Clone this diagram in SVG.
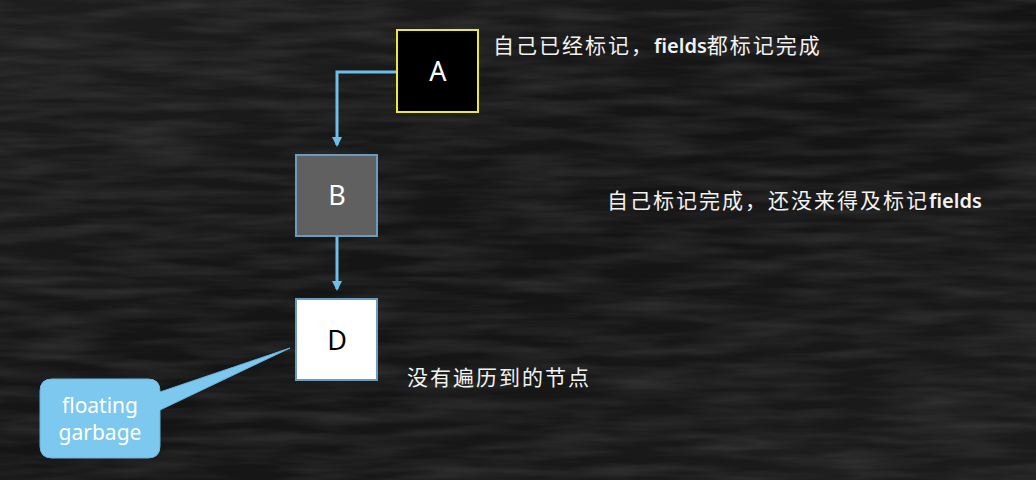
<svg xmlns="http://www.w3.org/2000/svg" width="1036" height="480" viewBox="0 0 1036 480">
<defs>
<style>
.lbl{font-family:"Noto Sans","Open Sans",sans-serif;font-size:27px;text-anchor:middle}
.note{font-family:"Noto Sans","Noto Sans CJK SC",sans-serif;font-size:21px;letter-spacing:2px;fill:#f2f2f2}
.lat{letter-spacing:0;font-size:20px;font-weight:600}
.conn{stroke:#6cbfe8;stroke-width:3;fill:none}
.cap{font-family:"Noto Sans","Open Sans",sans-serif;font-size:21px;fill:#fff;text-anchor:middle}
</style>
<marker id="arr" markerWidth="10" markerHeight="10" refX="8" refY="5" orient="auto" markerUnits="userSpaceOnUse">
<path d="M0,0 L10,5 L0,10 Z" fill="#6cbfe8"/>
</marker>
<linearGradient id="bg" x1="0" y1="0" x2="1" y2="1">
<stop offset="0" stop-color="#1e1e1e"/>
<stop offset="0.5" stop-color="#141414"/>
<stop offset="1" stop-color="#1c1c1c"/>
</linearGradient>
<filter id="chalk" x="0" y="0" width="100%" height="100%">
<feTurbulence type="fractalNoise" baseFrequency="0.01 0.09" numOctaves="3" seed="4"/>
<feColorMatrix type="matrix" values="0 0 0 0 1  0 0 0 0 1  0 0 0 0 1  0 0 0 0.18 -0.06"/>
</filter>
</defs>
<rect width="1036" height="480" fill="url(#bg)"/>
<rect width="1036" height="480" filter="url(#chalk)"/>
<g id="connectors">
<path class="conn" d="M397,72 H337 V145" marker-end="url(#arr)"/>
<path class="conn" d="M337,236 V289" marker-end="url(#arr)"/>
</g>
<g id="node-A">
<rect x="397" y="30" width="81" height="82" fill="#000" stroke="#e8e840" stroke-width="2"/>
<text class="lbl" x="438" y="81" fill="#fff">A</text>
</g>
<g id="node-B">
<rect x="296" y="155" width="81" height="81" fill="#606060" stroke="#6a9cc0" stroke-width="2"/>
<text class="lbl" x="337" y="205" fill="#fff">B</text>
</g>
<g id="node-D">
<rect x="296" y="299" width="81" height="81" fill="#fff" stroke="#6a9cc0" stroke-width="2"/>
<text class="lbl" x="337" y="350" fill="#000">D</text>
</g>
<g id="callout">
<path d="M52,379 H148 Q160,379 160,391 V392 L290,348 L160,410 V446 Q160,458 148,458 H52 Q40,458 40,446 V391 Q40,379 52,379 Z" fill="#7dc8ef" stroke="#6ab4dc" stroke-width="1"/>
<text class="cap" x="100" y="413">floating</text>
<text class="cap" x="100" y="440">garbage</text>
</g>
<g id="notes">
<text class="note" x="493" y="53">自己已经标记，<tspan class="lat">fields</tspan>都标记完成</text>
<text class="note" x="607" y="208">自己标记完成，还没来得及标记<tspan class="lat">fields</tspan></text>
<text class="note" x="407" y="385">没有遍历到的节点</text>
</g>
</svg>
